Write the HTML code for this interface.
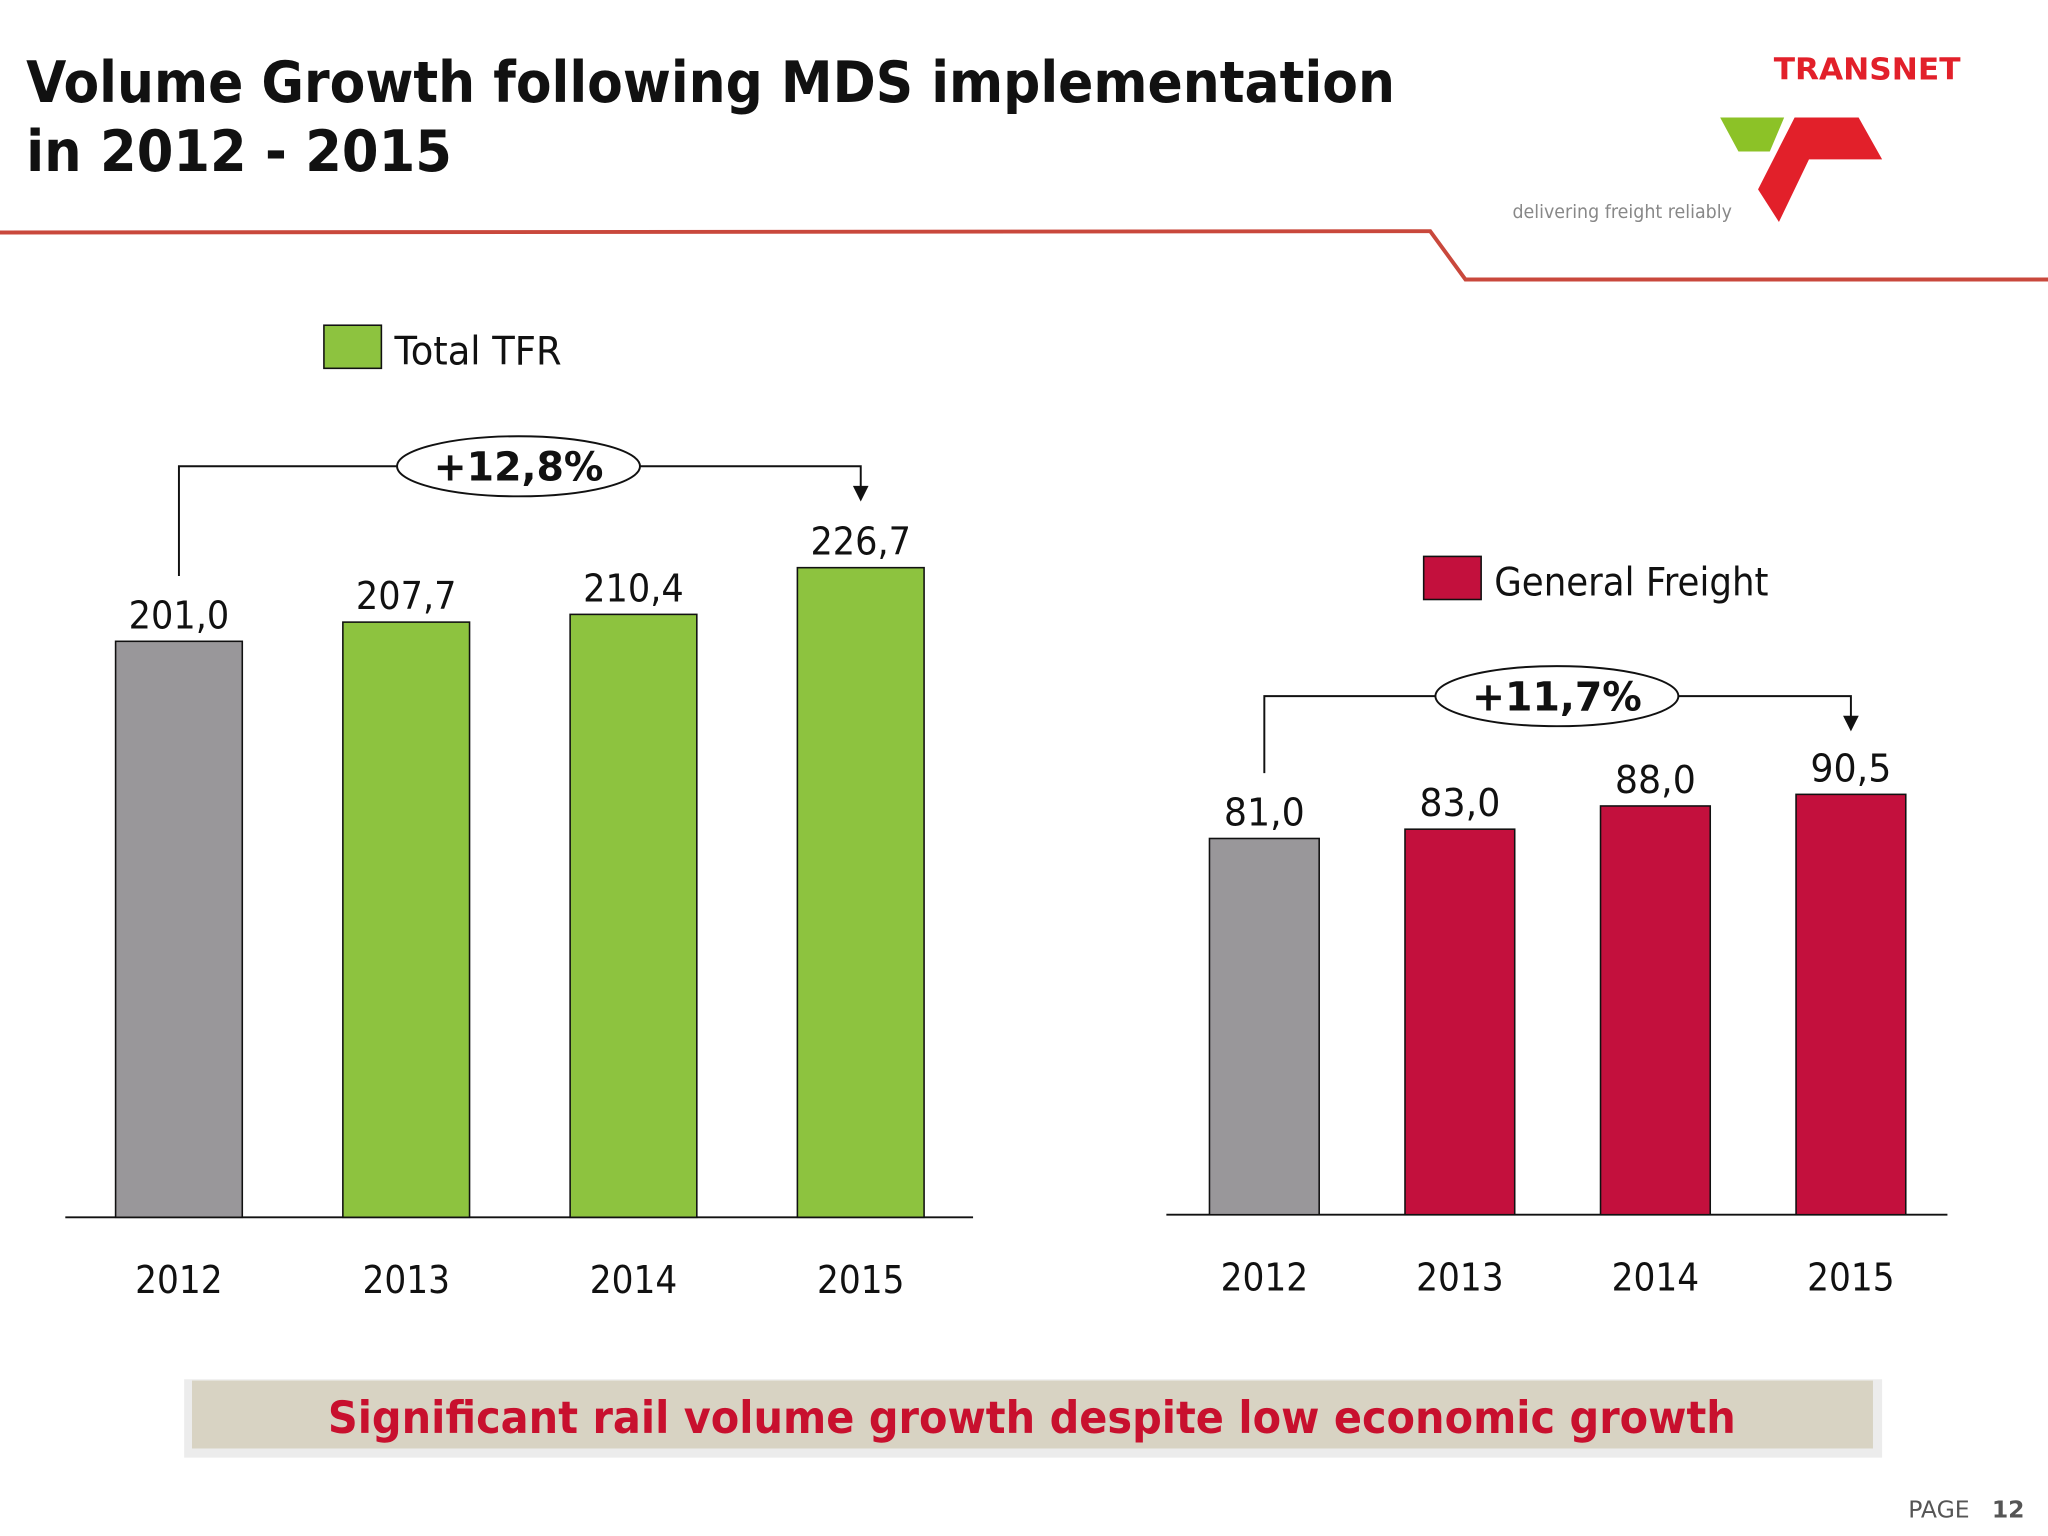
<!DOCTYPE html>
<html><head><meta charset="utf-8"><style>
html,body{margin:0;padding:0;background:#fff}
svg{display:block}
text{font-family:"DejaVu Sans","Liberation Sans",sans-serif}
</style></head><body>
<svg id="s" width="2048" height="1536" viewBox="0 0 1568 1176">
<rect width="1568" height="1176" fill="#fff"/>
<text x="20" y="78" font-size="44" font-weight="bold" fill="#111" textLength="1048" lengthAdjust="spacingAndGlyphs">Volume Growth following MDS implementation</text>
<text x="20" y="131" font-size="44" font-weight="bold" fill="#111" textLength="326" lengthAdjust="spacingAndGlyphs">in 2012 - 2015</text>
<g>
<text x="1358" y="61" font-size="23" font-weight="bold" fill="#e2202a" textLength="143" lengthAdjust="spacingAndGlyphs">TRANSNET</text>
<polygon points="1317,90 1366,90 1355,116 1331,116" fill="#8cc227"/>
<polygon points="1374,90 1423,90 1441,122 1385,122 1362,170 1346,145" fill="#e2202a"/>
<text x="1158" y="167" font-size="14" fill="#888" textLength="168" lengthAdjust="spacingAndGlyphs">delivering freight reliably</text>
</g>
<polyline points="0,178 1095,177 1122,214 1568,214" fill="none" stroke="#c9483c" stroke-width="3"/>
<g id="c1"></g>
<g id="c2"></g>
<rect x="141" y="1056" width="1300" height="60" fill="#ececec"/>
<rect x="147" y="1057" width="1287" height="52" fill="#d8d3c3"/>
<text x="251" y="1097" font-size="34" font-weight="bold" fill="#c8102e" textLength="1078" lengthAdjust="spacingAndGlyphs">Significant rail volume growth despite low economic growth</text>
<text x="1461" y="1162" font-size="18" fill="#555">PAGE</text>
<text x="1525" y="1162" font-size="18" font-weight="bold" fill="#555">12</text>
</svg>
<script>
const categories=["2012","2013","2014","2015"];
const tfrValues=[201.0,207.7,210.4,226.7];
const tfrLabels=["201,0","207,7","210,4","226,7"];
const gfValues=[81.0,83.0,88.0,90.5];
const gfLabels=["81,0","83,0","88,0","90,5"];
const tfrGrowth="+12,8%";
const gfGrowth="+11,7%";
const NS="http://www.w3.org/2000/svg";
function mk(p,t,a){const e=document.createElementNS(NS,t);for(const k in a)e.setAttribute(k,a[k]);p.appendChild(e);return e;}
function chart(g,o){
  const y=v=>o.base-v*o.k;
  const x=i=>o.x0+i*o.step;
  let l=mk(g,'line',{x1:o.ax0,x2:o.ax1,y1:o.base,y2:o.base,stroke:'#111','stroke-width':1.5});
  
  
  o.vals.forEach((v,i)=>{
    let r=mk(g,'rect',{x:x(i)-o.w/2,y:y(v),width:o.w,height:o.base-y(v),fill:i==0?'#99979a':o.col,stroke:'#111','stroke-width':1.2});
    
    
    let t=mk(g,'text',{x:x(i),y:y(v)-10,'font-size':29,'text-anchor':'middle',fill:'#111',textLength:o.labels[i].length==5?77:62,lengthAdjust:'spacingAndGlyphs'});t.textContent=o.labels[i];
    
    
    let c=mk(g,'text',{x:x(i),y:o.base+58,'font-size':29,'text-anchor':'middle',fill:'#111',textLength:67,lengthAdjust:'spacingAndGlyphs'});c.textContent=categories[i];
    
    
  });
  const x0=x(0),x3=x(3),ly=o.ly;
  let p=mk(g,'polyline',{points:`${x0},${y(o.vals[0])-50} ${x0},${ly} ${x3},${ly} ${x3},${ly+18}`,fill:'none',stroke:'#111','stroke-width':1.5});
  
  
  let a=mk(g,'polygon',{points:`${x3-6},${ly+15} ${x3+6},${ly+15} ${x3},${ly+27}`,fill:'#111'});
  
  
  let e=mk(g,'ellipse',{cx:o.ex,cy:ly,rx:93,ry:23,fill:'#fff',stroke:'#111','stroke-width':1.5});
  
  
  let gt=mk(g,'text',{x:o.ex,y:ly+11,'font-size':31,'font-weight':'bold','text-anchor':'middle',fill:'#111',textLength:130,lengthAdjust:'spacingAndGlyphs'});gt.textContent=o.growth;
  
  
  let lr=mk(g,'rect',{x:o.lx,y:o.lyy,width:44,height:33,fill:o.col,stroke:'#111','stroke-width':1.2});
  
  
  let lt=mk(g,'text',{x:o.lx+54,y:o.lyy+30,'font-size':30,fill:'#111',textLength:o.lw,lengthAdjust:'spacingAndGlyphs'});lt.textContent=o.legend;
  
  
}
chart(document.getElementById('c1'),{vals:tfrValues,labels:tfrLabels,base:932,k:2.194,x0:137,step:174,w:97,col:'#8dc33f',ax0:50,ax1:745,ly:357,ex:397,growth:tfrGrowth,lx:248,lyy:249,legend:'Total TFR',lw:128});
chart(document.getElementById('c2'),{vals:gfValues,labels:gfLabels,base:930,k:3.556,x0:968,step:149.7,w:84,col:'#c3103d',ax0:893,ax1:1491,ly:533,ex:1192,growth:gfGrowth,lx:1090,lyy:426,legend:'General Freight',lw:210});
</script>
</body></html>
